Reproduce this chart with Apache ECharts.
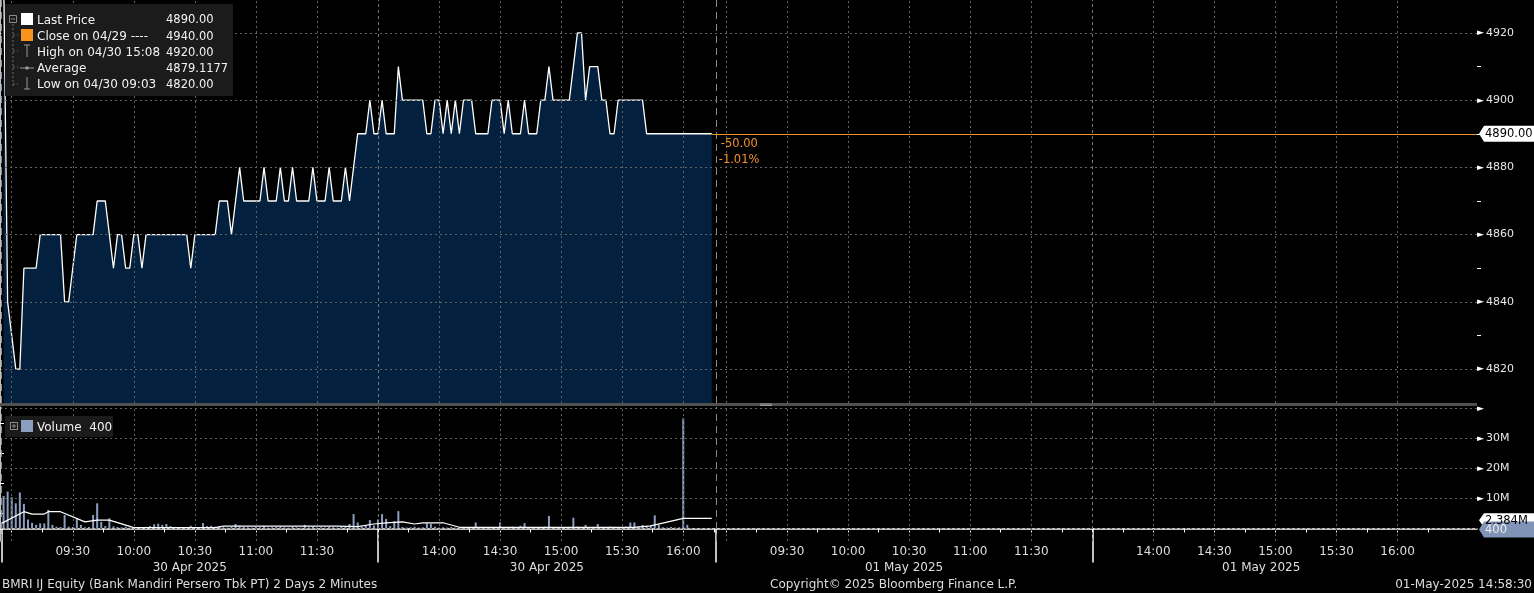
<!DOCTYPE html>
<html><head><meta charset="utf-8">
<script src="https://cdn.jsdelivr.net/npm/echarts@6/dist/echarts.min.js"></script>
<style>html,body{margin:0;padding:0;background:#000;overflow:hidden}#c{width:1534px;height:593px}</style>
</head><body><div id="c"></div>
<script>
// ---------------- DATA ----------------
const dayNames = ['30 Apr 2025', '01 May 2025'];
const preOpenTimes = ['08:56', '08:58'];
const preOpenPrices = [4940, 4840];
const preOpenVolumes = [10.8, 12.3];          // millions
const amStart = '09:00';                       // 2-minute bars
const pmStart = '13:30';
const amPrices = [
  4830,4820,4820,4850,4850,4850,4850,4860,4860,4860,
  4860,4860,4860,4840,4840,4850,4860,4860,4860,4860,
  4860,4870,4870,4870,4860,4850,4860,4860,4850,4850,
  4860,4860,4850,4860,4860,4860,4860,4860,4860,4860,
  4860,4860,4860,4860,4850,4860,4860,4860,4860,4860,
  4860,4870,4870,4870,4860,4870,4880,4870,4870,4870,
  4870,4870,4880,4870,4870,4870,4880,4870,4870,4880,
  4870,4870,4870,4870,4880,4870,4870,4870,4880,4870,
  4870,4870,4880,4870,4880,4890,4890,4890,4900,4890
];
const pmPrices = [
  4890,4900,4890,4890,4890,4910,4900,4900,4900,4900,
  4900,4900,4890,4890,4900,4900,4890,4900,4890,4900,
  4890,4900,4900,4900,4890,4890,4890,4890,4900,4900,
  4900,4890,4900,4890,4890,4890,4900,4890,4890,4890,
  4900,4900,4910,4900,4900,4900,4900,4900,4910,4920,
  4920,4900,4910,4910,4910,4900,4900,4890,4890,4900,
  4900,4900,4900,4900,4900,4900,4890,4890,4890,4890,
  4890,4890,4890,4890,4890,4890,4890,4890,4890,4890,
  4890,4890,4890
];
const amVolumes = [
  10.4,8.4,12.0,8.2,3.0,1.9,1.2,1.7,1.7,6.2,
  1.2,0.6,0.5,4.5,0.6,0.5,3.4,1.2,0.4,0.5,
  4.5,8.4,2.2,0.8,3.4,0.7,0.5,0.4,0.6,0.3,
  0.4,0.3,0.5,0.4,0.8,1.4,1.6,1.2,1.5,0.8,
  0.3,0.4,0.3,0.5,0.9,0.4,0.3,1.8,0.8,0.9,
  0.6,0.7,0.4,0.3,0.5,1.5,0.9,0.5,0.4,0.3,
  0.5,0.4,0.8,0.3,0.4,0.5,0.7,0.4,0.3,0.6,
  0.4,0.3,1.2,0.4,0.6,0.3,0.4,0.3,0.5,0.4,
  0.3,0.6,0.8,1.5,4.8,2.0,0.6,0.9,2.8,1.0
];
const pmVolumes = [
  3.0,4.8,3.2,0.8,2.4,5.8,0.5,0.3,0.4,0.6,
  0.3,0.4,1.8,1.5,0.6,0.3,0.4,0.3,0.5,0.3,
  0.4,0.3,0.2,0.4,2.0,0.3,0.2,0.5,0.3,0.4,
  2.0,0.5,0.3,0.6,0.4,0.9,1.8,0.4,0.3,0.2,
  0.5,0.6,4.2,0.5,0.3,0.4,0.3,0.5,3.6,0.6,
  0.4,1.2,0.5,0.3,1.5,0.4,0.3,0.6,0.4,0.3,
  0.5,0.6,2.0,2.0,0.8,1.2,0.9,1.0,4.4,1.2,
  0.4,0.3,0.5,0.3,0.4,36.7,1.2,0,0,0,
  0,0,0.0004
];
const volAvgTimes = ['08:55','09:06','09:10','09:16','09:18','09:24','09:36','09:42','09:48','10:00','10:40','10:44','11:40','11:50','11:58','13:34','13:42','13:48','13:52','14:02','14:10','15:36','15:44','16:00','16:14'];
const volAvgValues = [1.7,5.6,4.8,4.8,5.6,5.6,2.2,2.8,2.8,0.3,0.3,0.8,0.8,0.6,1.5,1.9,2.2,1.5,1.9,1.9,0.4,0.4,0.9,3.4,3.4];
const prevClose = 4940;
const priceTicks = [4820, 4840, 4860, 4880, 4900, 4920];
const priceMinorTicks = [4830, 4850, 4870, 4890, 4910];
const volumeTicks = [0, 10, 20, 30, 40];
const volumeLabelTicks = [10, 20, 30, 40];
const volumeMinorTicks = [5, 15, 25, 35];
const timeLabels = ['09:30','10:00','10:30','11:00','11:30','14:00','14:30','15:00','15:30','16:00'];
const gridTimes = ['09:00','09:30','10:00','10:30','11:00','11:30','14:00','14:30','15:00','15:30','16:00'];
const sessionBreakTime = '12:00';
const legendNames = ['Last Price', 'Close on 04/29 ----', 'High on 04/30 15:08', 'Average', 'Low on 04/30 09:03'];
const legendValues = ['4890.00', '4940.00', '4920.00', '4879.1177', '4820.00'];
const volumeLegendName = 'Volume';
const lastVolumeText = '400';
const volAvgText = '2.384M';
const footerLeft = 'BMRI IJ Equity (Bank Mandiri Persero Tbk PT) 2 Days 2 Minutes';
const footerMid = 'Copyright\u00a9 2025 Bloomberg Finance L.P.';
const footerRight = '01-May-2025 14:58:30';

// ---------------- TIME -> COMPRESSED AXIS ----------------
const PRE = 5.75, DAY_LEN = 351, X_MAX = 725.8;
function toMin(hm) { const [h, m] = hm.split(':').map(Number); return h * 60 + m; }
function toHM(t) { return String(Math.floor(t / 60)).padStart(2, '0') + ':' + String(t % 60).padStart(2, '0'); }
function toPos(day, hm) {
  const t = toMin(hm);
  const p = t <= 720 ? PRE + (t - 540) : PRE + 180 + (t - 810);
  return day * DAY_LEN + p;
}
const priceData = [], volData = [];
preOpenTimes.forEach((t, i) => { priceData.push([toPos(0, t), preOpenPrices[i]]); volData.push([toPos(0, t), preOpenVolumes[i]]); });
amPrices.forEach((v, i) => priceData.push([toPos(0, toHM(toMin(amStart) + 2 * i)), v]));
pmPrices.forEach((v, i) => priceData.push([toPos(0, toHM(toMin(pmStart) + 2 * i)), v]));
amVolumes.forEach((v, i) => volData.push([toPos(0, toHM(toMin(amStart) + 2 * i)), v]));
pmVolumes.forEach((v, i) => volData.push([toPos(0, toHM(toMin(pmStart) + 2 * i)), v]));
const avgData = volAvgTimes.map((t, i) => [toPos(0, t), volAvgValues[i]]);
const lastPoint = priceData[priceData.length - 1];
const lastPrice = lastPoint[1];

// axis decorations
const tickPos = [], labelPos = [], labelMap = {}, gridPos = [], breakPos = [];
[0, 1].forEach(d => {
  for (let t = 540; t <= 720; t += 15) tickPos.push(toPos(d, toHM(t)));
  for (let t = 825; t <= 975; t += 15) tickPos.push(toPos(d, toHM(t)));
  timeLabels.forEach(l => { const p = toPos(d, l); labelPos.push(p); labelMap[Math.round(p * 100)] = l; });
  gridTimes.forEach(l => gridPos.push(toPos(d, l)));
  breakPos.push(toPos(d, sessionBreakTime));
});
const dayEdges = [toPos(0, '08:55'), toPos(1, '08:55')];
const sessionEdges = [dayEdges[0], breakPos[0], dayEdges[1], breakPos[1]];
const sessionCenters = [], centerMap = {};
[0, 1].forEach(d => {
  const a = (toPos(d, '08:55') + toPos(d, '12:00')) / 2;
  const b = (toPos(d, '13:30') + toPos(d, '08:55') + DAY_LEN) / 2;
  [a, b].forEach(p => { sessionCenters.push(p); centerMap[Math.round(p * 100)] = dayNames[d]; });
});

// ---------------- CHART ----------------
const FONT = 'DejaVu Sans';
const GRID_COLOR = '#626262';
const chart = echarts.init(document.getElementById('c'), null, { renderer: 'canvas' });
const P_MIN = 4809.9, P_MAX = 4929.8, V_MIN = -4.17, V_MAX = 40.5;
const vGrid = gridPos.map(p => ({ xAxis: p, lineStyle: { color: GRID_COLOR, type: [2, 3], width: 1 } }))
  .concat(breakPos.map(p => ({ xAxis: p, lineStyle: { color: '#777777', type: [3, 3], width: 1 } })))
  .concat(dayEdges.map(p => ({ xAxis: p, lineStyle: { color: '#8a8a8a', type: [7, 5], width: 1 } })));
const tri = { color: '#ffffff', fontSize: 9, fontFamily: FONT };
const lab = { color: '#e6e6e6', fontSize: 11, fontFamily: FONT, padding: [0, 0, 0, 2] };

chart.setOption({
  backgroundColor: '#000',
  animation: false,
  grid: [
    { left: 0, right: 57, top: 0, height: 403 },
    { left: 0, right: 57, top: 407, height: 134 }
  ],
  xAxis: [
    { gridIndex: 0, type: 'value', min: 0, max: X_MAX, show: false },
    { gridIndex: 1, type: 'value', min: 0, max: X_MAX, position: 'bottom',
      axisLine: { show: true, lineStyle: { color: '#fff', width: 1.5 } },
      axisTick: { show: true, customValues: tickPos, length: 4, lineStyle: { color: '#fff' } },
      axisLabel: { show: true, customValues: labelPos, formatter: v => labelMap[Math.round(v * 100)] || '',
        color: '#dedede', fontSize: 12, fontFamily: FONT, margin: 5 },
      splitLine: { show: false } },
    { gridIndex: 1, type: 'value', min: 0, max: X_MAX, position: 'bottom',
      axisLine: { show: false },
      axisTick: { show: true, customValues: sessionEdges, length: 34, lineStyle: { color: '#fff', width: 1.5 } },
      axisLabel: { show: true, customValues: sessionCenters, formatter: v => centerMap[Math.round(v * 100)] || '',
        color: '#dedede', fontSize: 12, fontFamily: FONT, margin: 21 },
      splitLine: { show: false } }
  ],
  yAxis: [
    { gridIndex: 0, type: 'value', position: 'right', min: P_MIN, max: P_MAX, z: 5,
      axisLine: { show: true, lineStyle: { color: '#fff', width: 1.5 } },
      axisTick: { show: false, customValues: priceTicks },
      axisLabel: { show: true, customValues: priceTicks, margin: 0,
        formatter: v => '{t|\u25BA}{v|' + v + '}', rich: { t: tri, v: lab } },
      splitLine: { show: true, lineStyle: { color: GRID_COLOR, type: [2, 3], width: 1 } } },
    { gridIndex: 0, type: 'value', position: 'right', min: P_MIN, max: P_MAX,
      axisLine: { show: false },
      axisTick: { show: true, customValues: priceMinorTicks, length: 4, inside: false, lineStyle: { color: '#fff' } },
      axisLabel: { show: false }, splitLine: { show: false } },
    { gridIndex: 1, type: 'value', position: 'right', min: V_MIN, max: V_MAX, z: 5,
      axisLine: { show: true, lineStyle: { color: '#fff', width: 1.5 } },
      axisTick: { show: false, customValues: volumeTicks },
      axisLabel: { show: true, customValues: volumeLabelTicks, margin: 0,
        formatter: v => v === 40 ? '{t|\u25BA}' : '{t|\u25BA}{v|' + v + 'M}', rich: { t: tri, v: lab } },
      splitLine: { show: true, lineStyle: { color: GRID_COLOR, type: [2, 3], width: 1 } } },
    { gridIndex: 1, type: 'value', position: 'right', min: V_MIN, max: V_MAX,
      axisLine: { show: false },
      axisTick: { show: true, customValues: volumeMinorTicks, length: 4, lineStyle: { color: '#fff' } },
      axisLabel: { show: false }, splitLine: { show: false } }
  ],
  series: [
    { type: 'line', xAxisIndex: 0, yAxisIndex: 0, data: priceData, showSymbol: false, symbol: 'none',
      clip: true, z: 2,
      lineStyle: { color: '#ffffff', width: 1.3 },
      areaStyle: { color: '#03203f', opacity: 1 },
      markLine: { silent: true, symbol: ['none', 'none'], label: { show: false }, animation: false,
        data: vGrid.concat([[
          { coord: [lastPoint[0], lastPrice], lineStyle: { color: '#f0922a', type: 'solid', width: 1 } },
          { coord: [X_MAX, lastPrice] }
        ]]) } },
    { type: 'bar', xAxisIndex: 1, yAxisIndex: 2, data: volData, barWidth: 2, z: 2,
      itemStyle: { color: '#8b9ec0' },
      markLine: { silent: true, symbol: ['none', 'none'], label: { show: false }, animation: false, data: vGrid } },
    { type: 'line', xAxisIndex: 1, yAxisIndex: 2, data: avgData, showSymbol: false, symbol: 'none', z: 3,
      lineStyle: { color: '#ffffff', width: 1.2 } }
  ]
});

// ---------------- OVERLAYS ----------------
const [lx, ly] = chart.convertToPixel({ gridIndex: 0 }, lastPoint);
const axX = 1477;
const yVolLast = chart.convertToPixel({ yAxisIndex: 2 }, pmVolumes[pmVolumes.length - 1]);
const yAvgLast = chart.convertToPixel({ yAxisIndex: 2 }, volAvgValues[volAvgValues.length - 1]);
const chg = lastPrice - prevClose;
const pct = chg / prevClose * 100;
function tagBox(y, fill, textColor, txt, h) {
  return [
    { type: 'polygon', shape: { points: [[axX + 2, y], [axX + 7, y - h / 2], [1534, y - h / 2], [1534, y + h / 2], [axX + 7, y + h / 2]] },
      style: { fill: fill }, z: 100 },
    { type: 'text', x: axX + 8, y: y + 0.5, style: { text: txt, fill: textColor, font: '11.5px "DejaVu Sans"', textVerticalAlign: 'middle' }, z: 101 }
  ];
}
const legendEls = [
  { type: 'rect', shape: { x: 5, y: 4, width: 228, height: 92 }, style: { fill: '#1b1b1b' }, z: 50 },
  { type: 'rect', shape: { x: 9.5, y: 15.5, width: 7, height: 7 }, style: { fill: 'none', stroke: '#8a8a8a', lineWidth: 1 }, z: 51 },
  { type: 'line', shape: { x1: 11, y1: 19, x2: 15, y2: 19 }, style: { stroke: '#8a8a8a' }, z: 51 },
  { type: 'line', shape: { x1: 13, y1: 24, x2: 13, y2: 86 }, style: { stroke: '#6a6a6a', lineDash: [2, 2] }, z: 51 },
  { type: 'rect', shape: { x: 21, y: 13, width: 12, height: 12 }, style: { fill: '#ffffff' }, z: 51 },
  { type: 'rect', shape: { x: 21, y: 29, width: 12, height: 12 }, style: { fill: '#f7941d' }, z: 51 },
  { type: 'line', shape: { x1: 27, y1: 45, x2: 27, y2: 57 }, style: { stroke: '#9a9a9a' }, z: 51 },
  { type: 'line', shape: { x1: 24, y1: 45, x2: 30, y2: 45 }, style: { stroke: '#9a9a9a' }, z: 51 },
  { type: 'line', shape: { x1: 20, y1: 68, x2: 34, y2: 68 }, style: { stroke: '#9a9a9a' }, z: 51 },
  { type: 'circle', shape: { cx: 27, cy: 68, r: 1.8 }, style: { fill: '#9a9a9a' }, z: 51 },
  { type: 'line', shape: { x1: 27, y1: 77, x2: 27, y2: 89 }, style: { stroke: '#9a9a9a' }, z: 51 },
  { type: 'line', shape: { x1: 24, y1: 89, x2: 30, y2: 89 }, style: { stroke: '#9a9a9a' }, z: 51 }
];
[35, 51, 67, 84].forEach(y => legendEls.push({ type: 'line', shape: { x1: 13, y1: y, x2: 18, y2: y }, style: { stroke: '#6a6a6a', lineDash: [2, 2] }, z: 51 }));
legendNames.forEach((n, i) => {
  const y = 20.5 + i * 16.2;
  legendEls.push({ type: 'text', x: 37, y: y, style: { text: n, fill: '#f2f2f2', font: '12px "DejaVu Sans"', textVerticalAlign: 'middle' }, z: 52 });
  legendEls.push({ type: 'text', x: 166, y: y, style: { text: legendValues[i], fill: '#f2f2f2', font: '11.5px "DejaVu Sans"', textVerticalAlign: 'middle' }, z: 52 });
});
const volLegendEls = [
  { type: 'rect', shape: { x: 5, y: 416, width: 108, height: 21 }, style: { fill: '#1b1b1b' }, z: 50 },
  { type: 'rect', shape: { x: 10.5, y: 422.5, width: 7, height: 7 }, style: { fill: 'none', stroke: '#8a8a8a', lineWidth: 1 }, z: 51 },
  { type: 'line', shape: { x1: 12, y1: 426, x2: 16, y2: 426 }, style: { stroke: '#8a8a8a' }, z: 51 },
  { type: 'line', shape: { x1: 14, y1: 424, x2: 14, y2: 428 }, style: { stroke: '#8a8a8a' }, z: 51 },
  { type: 'rect', shape: { x: 21, y: 420, width: 12, height: 12 }, style: { fill: '#8b9ec0' }, z: 51 },
  { type: 'text', x: 37, y: 427.5, style: { text: volumeLegendName + '  ' + lastVolumeText, fill: '#f2f2f2', font: '12px "DejaVu Sans"', textVerticalAlign: 'middle' }, z: 52 }
];
const graphics = [
  { type: 'rect', shape: { x: 0, y: 403, width: axX, height: 3 }, style: { fill: '#505050' }, z: 40 },
  { type: 'rect', shape: { x: 760, y: 403.5, width: 12, height: 1 }, style: { fill: '#9a9a9a' }, z: 41 },
  { type: 'rect', shape: { x: 760, y: 405, width: 12, height: 1 }, style: { fill: '#9a9a9a' }, z: 41 },
  { type: 'text', x: lx + 9, y: ly + 10, style: { text: chg.toFixed(2), fill: '#f0922a', font: '11.5px "DejaVu Sans"', textVerticalAlign: 'middle' }, z: 60 },
  { type: 'text', x: lx + 7, y: ly + 26, style: { text: pct.toFixed(2) + '%', fill: '#f0922a', font: '11.5px "DejaVu Sans"', textVerticalAlign: 'middle' }, z: 60 },
  { type: 'text', x: 2, y: 584.5, style: { text: footerLeft, fill: '#dedede', font: '12px "DejaVu Sans"', textVerticalAlign: 'middle' }, z: 60 },
  { type: 'text', x: 770, y: 584.5, style: { text: footerMid, fill: '#dedede', font: '12px "DejaVu Sans"', textVerticalAlign: 'middle' }, z: 60 },
  { type: 'text', x: 1532, y: 584.5, style: { text: footerRight, fill: '#dedede', font: '12px "DejaVu Sans"', textVerticalAlign: 'middle', textAlign: 'right' }, z: 60 }
].concat(tagBox(ly, '#ffffff', '#000000', lastPrice.toFixed(2), 16))
 .concat(tagBox(yAvgLast + 2, '#ffffff', '#000000', volAvgText, 14))
 .concat(tagBox(yVolLast + 1, '#7f94b6', '#eeeeee', lastVolumeText, 16))
 .concat(legendEls).concat(volLegendEls);
chart.setOption({ graphic: graphics });
</script></body></html>
